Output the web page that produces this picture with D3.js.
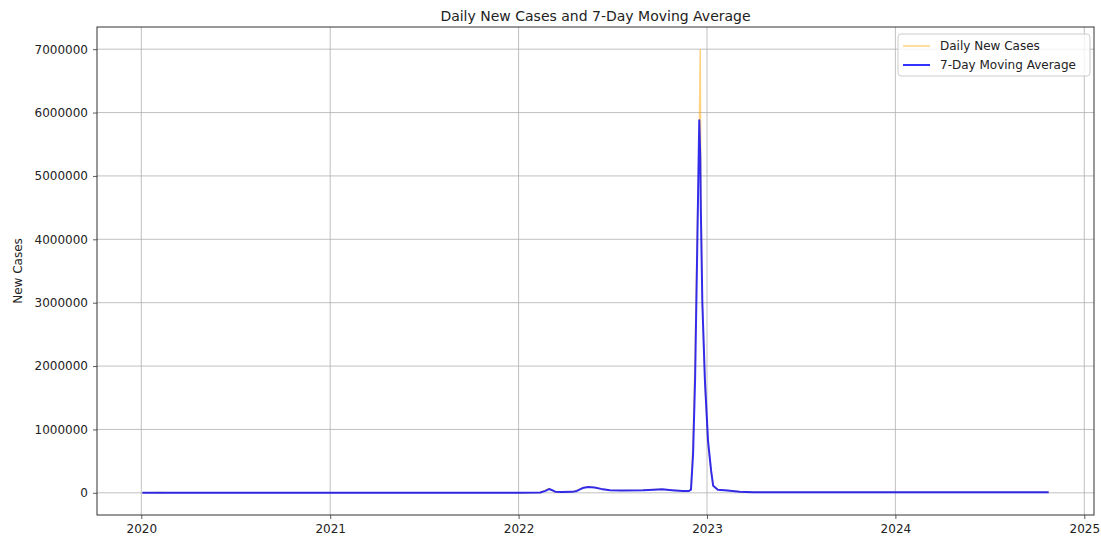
<!DOCTYPE html>
<html>
<head>
<meta charset="utf-8">
<script src="https://cdn.jsdelivr.net/npm/d3@7/dist/d3.min.js"></script>
<style>
  html, body { margin: 0; padding: 0; background: #fff; }
  svg { display: block; font-family: "DejaVu Sans", sans-serif; }
</style>
</head>
<body>
<svg id="chart" width="1101" height="538"></svg>
<script>
// Reporting dates (sampled where the curve changes)
const dates = [
  "2020-01-03", "2020-01-20", "2020-02-05", "2020-02-20", "2020-03-10",
  "2020-06-01", "2021-01-01", "2021-06-01", "2021-12-31", "2022-02-12",
  "2022-02-22", "2022-03-01", "2022-03-06", "2022-03-13", "2022-03-25",
  "2022-04-15", "2022-04-24", "2022-05-05", "2022-05-16", "2022-05-28",
  "2022-06-10", "2022-06-27", "2022-07-20", "2022-08-30", "2022-09-20",
  "2022-10-06", "2022-10-25", "2022-11-15", "2022-11-27", "2022-12-01",
  "2022-12-05", "2022-12-09", "2022-12-13", "2022-12-17", "2022-12-19",
  "2022-12-20", "2022-12-23", "2022-12-28", "2023-01-03", "2023-01-09",
  "2023-01-13", "2023-01-22", "2023-02-10", "2023-03-05", "2023-04-01",
  "2024-10-24"
];

// Daily new cases
const dailyNewCases = [
  0, 1500, 3500, 1500, 100,
  100, 200, 100, 300, 5000,
  40000, 70000, 40000, 15000, 10000,
  18000, 35000, 80000, 95000, 85000,
  60000, 42000, 38000, 42000, 52000,
  58000, 40000, 28000, 28000, 70000,
  800000, 2200000, 4100000, 5600000, 7000000,
  4800000, 3000000, 1700000, 800000, 330000,
  110000, 50000, 35000, 15000, 10000,
  8000
];

// 7-day moving average
const movingAverage = [
  0, 500, 2800, 2200, 300,
  100, 150, 100, 250, 4000,
  30000, 60000, 45000, 18000, 12000,
  15000, 30000, 75000, 92000, 85000,
  62000, 42000, 38000, 42000, 50000,
  56000, 42000, 28000, 28000, 50000,
  600000, 1800000, 3800000, 5880000, 5300000,
  4500000, 3000000, 1770000, 820000, 350000,
  110000, 50000, 35000, 15000, 10000,
  8000
];

const yTicks = [0, 1000000, 2000000, 3000000, 4000000, 5000000, 6000000, 7000000];
const xTickYears = ["2020", "2021", "2022", "2023", "2024", "2025"];

const seriesNames = ["Daily New Cases", "7-Day Moving Average"];

const parse = d3.timeParse("%Y-%m-%d");
const parsedDates = dates.map(parse);
const dailyData = parsedDates.map((d, i) => ({ date: d, value: dailyNewCases[i] }));
const avgData = parsedDates.map((d, i) => ({ date: d, value: movingAverage[i] }));

const svg = d3.select("#chart");
const margin = { left: 97, right: 7, top: 27, bottom: 23 };
const width = 1101, height = 538;
const plotW = width - margin.left - margin.right;
const plotH = height - margin.top - margin.bottom;

// Domains padded by 5% like a default autoscaled plot
const tExt = d3.extent(parsedDates);
const tSpan = tExt[1] - tExt[0];
const x = d3.scaleTime()
  .domain([new Date(+tExt[0] - 0.05 * tSpan), new Date(+tExt[1] + 0.05 * tSpan)])
  .range([margin.left, margin.left + plotW]);

const yMax = d3.max(dailyNewCases.concat(movingAverage));
const yMin = 0;
const ySpan = yMax - yMin;
const y = d3.scaleLinear()
  .domain([yMin - 0.05 * ySpan, yMax + 0.05 * ySpan])
  .range([margin.top + plotH, margin.top]);

const g = svg.append("g");

// Grid
const xTickDates = xTickYears.map(s => parse(s + "-01-01"));
g.append("g").selectAll("line").data(xTickDates).join("line")
  .attr("x1", d => x(d)).attr("x2", d => x(d))
  .attr("y1", margin.top).attr("y2", margin.top + plotH)
  .attr("stroke", "#b0b0b0").attr("stroke-width", 0.8);
g.append("g").selectAll("line").data(yTicks).join("line")
  .attr("x1", margin.left).attr("x2", margin.left + plotW)
  .attr("y1", d => y(d)).attr("y2", d => y(d))
  .attr("stroke", "#b0b0b0").attr("stroke-width", 0.8);

// Axes
const xAxis = d3.axisBottom(x).tickValues(xTickDates)
  .tickFormat(d3.timeFormat("%Y")).tickSize(4).tickPadding(5);
const yAxis = d3.axisLeft(y).tickValues(yTicks)
  .tickFormat(d3.format("d")).tickSize(4).tickPadding(5);

const xa = svg.append("g")
  .attr("transform", `translate(0,${margin.top + plotH})`)
  .call(xAxis);
const ya = svg.append("g")
  .attr("transform", `translate(${margin.left},0)`)
  .call(yAxis);
[xa, ya].forEach(a => {
  a.select(".domain").remove();
  a.selectAll("line").attr("stroke", "#333").attr("stroke-width", 0.8);
  a.selectAll("text").attr("fill", "#222").style("font-size", "12px")
    .style("font-family", "'DejaVu Sans', sans-serif");
});

// Frame
svg.append("rect")
  .attr("x", margin.left).attr("y", margin.top)
  .attr("width", plotW).attr("height", plotH)
  .attr("fill", "none").attr("stroke", "#333").attr("stroke-width", 1);

// Lines
const line = d3.line().x(d => x(d.date)).y(d => y(d.value));
svg.append("clipPath").attr("id", "plotclip").append("rect")
  .attr("x", margin.left).attr("y", margin.top).attr("width", plotW).attr("height", plotH);
const lines = svg.append("g").attr("clip-path", "url(#plotclip)");
lines.append("path").datum(dailyData)
  .attr("d", line).attr("fill", "none")
  .attr("stroke", "orange").attr("stroke-opacity", 0.5).attr("stroke-width", 1.5);
lines.append("path").datum(avgData)
  .attr("d", line).attr("fill", "none")
  .attr("stroke", "blue").attr("stroke-opacity", 0.8).attr("stroke-width", 2)
  .attr("stroke-linejoin", "round");

// Title
svg.append("text")
  .attr("x", margin.left + plotW / 2).attr("y", 21)
  .attr("text-anchor", "middle")
  .style("font-size", "14px").attr("fill", "#222")
  .text("Daily New Cases and 7-Day Moving Average");

// Y label
svg.append("text")
  .attr("transform", `translate(22,${margin.top + plotH / 2}) rotate(-90)`)
  .attr("text-anchor", "middle")
  .style("font-size", "12px").attr("fill", "#222")
  .text("New Cases");

// Legend
const legend = svg.append("g").attr("transform", "translate(898,34)");
legend.append("rect")
  .attr("width", 192).attr("height", 42).attr("rx", 3)
  .attr("fill", "#fff").attr("fill-opacity", 0.8)
  .attr("stroke", "#ccc").attr("stroke-width", 1);
const legendStyles = [
  { color: "orange", opacity: 0.5, w: 1.5 },
  { color: "blue", opacity: 0.8, w: 2 }
];
seriesNames.forEach((name, i) => {
  const cy = 12 + i * 19;
  legend.append("line")
    .attr("x1", 5).attr("x2", 32).attr("y1", cy).attr("y2", cy)
    .attr("stroke", legendStyles[i].color)
    .attr("stroke-opacity", legendStyles[i].opacity)
    .attr("stroke-width", legendStyles[i].w);
  legend.append("text")
    .attr("x", 42).attr("y", cy + 4)
    .style("font-size", "12px").attr("fill", "#222")
    .text(name);
});
</script>
</body>
</html>
